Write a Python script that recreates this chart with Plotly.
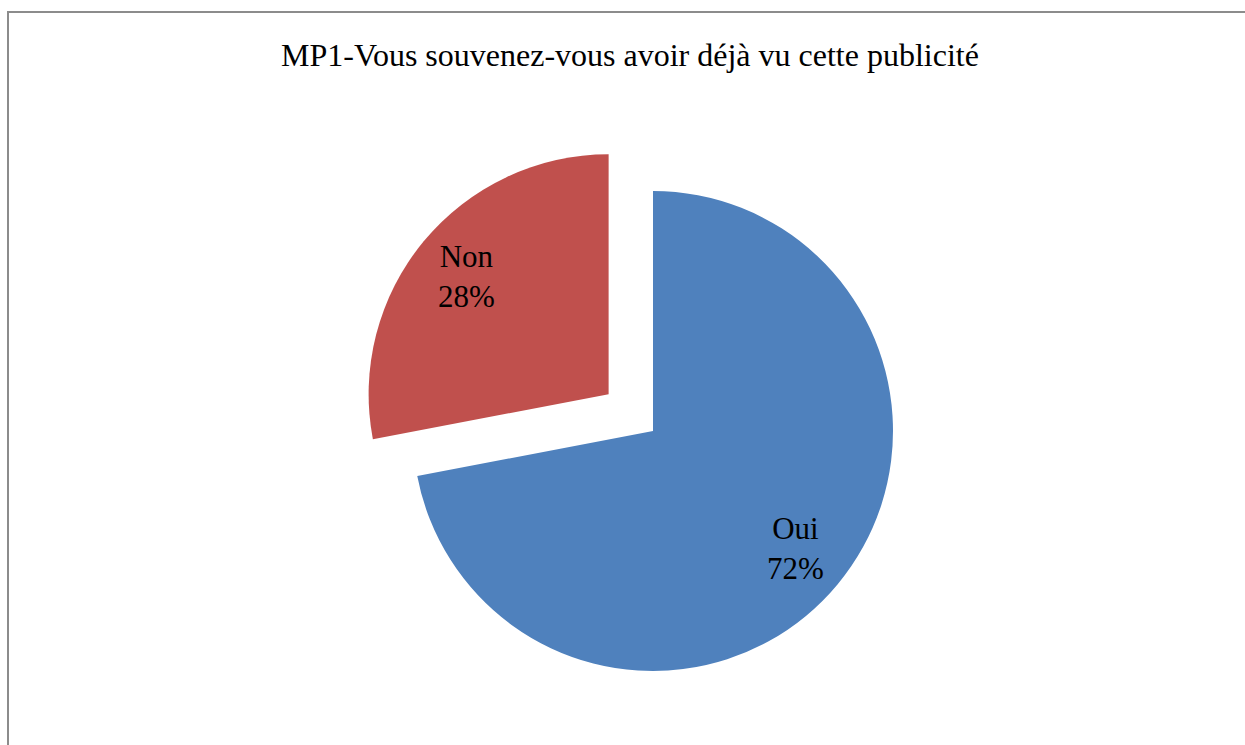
import math
import plotly.graph_objects as go

labels = ["Oui", "Non"]
values = [72, 28]
colors = ["#4F81BD", "#C0504D"]
pulls = [0, 0.24]
title_text = "MP1-Vous souvenez-vous avoir déjà vu cette publicité"

W, H = 1245, 745
cx, cy, r = 653, 431, 240
half = r * (1 + max(pulls))
FONT = "'Liberation Serif', 'Times New Roman', Times, serif"

fig = go.Figure(go.Pie(
    labels=labels,
    values=values,
    marker=dict(colors=colors, line=dict(width=0)),
    pull=pulls,
    sort=False,
    direction="clockwise",
    rotation=0,
    textinfo="none",
    hoverinfo="skip",
    showlegend=False,
    domain=dict(x=[(cx - half) / W, (cx + half) / W],
                y=[1 - (cy + half) / H, 1 - (cy - half) / H]),
))

# data labels placed along each slice's mid-angle
annotations = []
total = sum(values)
start = 0.0
for lab, v, p in zip(labels, values, pulls):
    frac = v / total
    mid = (start + frac / 2) * 2 * math.pi
    start += frac
    dx, dy = math.sin(mid), math.cos(mid)
    rr = r * (0.77 + p)
    px = cx + dx * rr
    py = cy - dy * rr
    annotations.append(dict(
        text=f"{lab}<br>{round(frac * 100)}%", x=px / W, y=1 - py / H,
        xref="paper", yref="paper", xanchor="center", yanchor="middle",
        showarrow=False, font=dict(family=FONT, size=31, color="black"),
    ))

annotations.append(dict(
    text=title_text, x=630 / W, y=1 - 55 / H, xref="paper", yref="paper",
    xanchor="center", yanchor="middle", showarrow=False,
    font=dict(family=FONT, size=32, color="black"),
))

fig.update_layout(
    width=W, height=H,
    margin=dict(l=0, r=0, t=0, b=0),
    paper_bgcolor="white",
    plot_bgcolor="white",
    annotations=annotations,
    shapes=[dict(
        type="rect", xref="paper", yref="paper",
        x0=8 / W, x1=1.01, y0=-0.01, y1=1 - 12 / H,
        line=dict(color="#8c8c8c", width=2), fillcolor="rgba(0,0,0,0)",
    )],
)

fig.write_html("out.html")
